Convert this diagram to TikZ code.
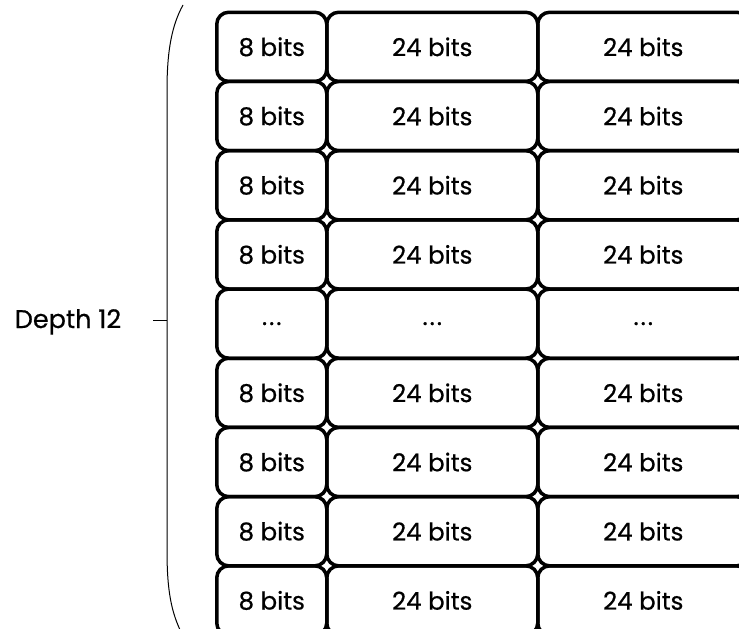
\documentclass[tikz,border=0pt]{standalone}
\usepackage{fontspec}
\setmainfont{Poppins}[FakeBold=0.6]
\newcommand{\mydots}{.\kern2pt.\kern2pt.}
\begin{document}
\begin{tikzpicture}[x=1pt,y=-1pt,
  cell/.style={draw, rounded corners=12pt, line width=3.5pt, inner sep=0pt,
    minimum height=69.2pt, font=\fontsize{24.5}{29}\selectfont, anchor=north west},
  narrow/.style={cell, minimum width=110pt},
  wide/.style={cell, minimum width=211pt},
  bracestyle/.style={line width=1pt},
  lbl/.style={font=\fontsize{25.5}{30}\selectfont, inner sep=0pt}]
\useasboundingbox (0,0) rectangle (739,629);
\clip (0,0) rectangle (739,629);
\foreach \r in {0,...,8} {
  \pgfmathsetmacro{\yy}{10.5+69.2*\r}
  \ifnum\r=4
    \node[narrow] (a\r) at (215,\yy) {\mydots};
    \node[wide] (b\r) at (325,\yy) {\mydots};
    \node[wide] (c\r) at (536,\yy) {\mydots};
  \else
    \node[narrow] (a\r) at (215,\yy) {8 bits};
    \node[wide] (b\r) at (325,\yy) {24 bits};
    \node[wide] (c\r) at (536,\yy) {24 bits};
  \fi
}
\coordinate (bt) at (183,5);
\coordinate (bu) at (167,90);
\coordinate (bm) at (167,320);
\coordinate (bl) at (167,550);
\coordinate (bb) at (182,634);
\coordinate (tick) at (153,320);
\draw[bracestyle] (bt) .. controls (172,25) and (167,50) .. (bu) -- (bl)
  .. controls (167,590) and (171,612) .. (bb);
\draw[bracestyle] (tick) -- (bm);
\node[lbl, anchor=base] (depth) at (68,328) {Depth 12};
\end{tikzpicture}
\end{document}
